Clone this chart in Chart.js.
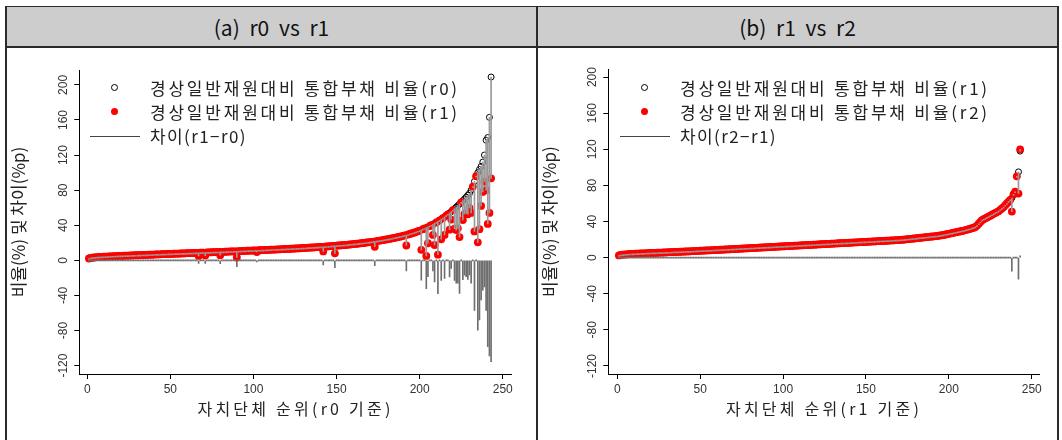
<!DOCTYPE html>
<html><head><meta charset="utf-8">
<script src="https://cdn.jsdelivr.net/npm/chart.js@4.4.1/dist/chart.umd.min.js"></script>
<style>
body{margin:0;background:#fff;width:1062px;height:440px;overflow:hidden;position:relative;font-family:"Noto Sans CJK KR","Noto Sans",sans-serif;color:#222}
.hdr{position:absolute;top:7px;height:39px;background:#cdcdcd;border-bottom:2px solid #2a2a2a;text-align:center;font-size:21px;line-height:40px;color:#111;word-spacing:5px;font-weight:400}
.vline{position:absolute;top:6px;bottom:0;width:2px;background:#2a2a2a}
.hline{position:absolute;top:6px;height:2px;background:#2a2a2a}
.lg{position:absolute;font-size:17px;line-height:20px;white-space:nowrap;color:#222}
.oc{position:absolute;width:5px;height:5px;border:1px solid #000;border-radius:50%;background:transparent}
.rd{position:absolute;width:7px;height:7px;border-radius:50%;background:#ff0000}
.ln{position:absolute;height:1px;background:#444}
canvas{position:absolute}
</style></head>
<body>
<div class="hline" style="left:5px;width:1054px"></div>
<div class="hdr" style="left:7px;width:529px">(a) r0 vs r1</div>
<div class="hdr" style="left:538px;width:519px">(b) r1 vs r2</div>
<div class="vline" style="left:5px"></div>
<div class="vline" style="left:536px"></div>
<div class="vline" style="left:1057px"></div>

<canvas id="ca" width="529" height="392" style="left:7px;top:48px"></canvas>
<canvas id="cb" width="519" height="392" style="left:538px;top:48px"></canvas>

<div class="oc" style="left:111px;top:84px"></div>
<div class="lg" data-w="310" style="left:150px;top:78px">경상일반재원대비 통합부채 비율(r0)</div>
<div class="rd" style="left:111px;top:108px"></div>
<div class="lg" data-w="310" style="left:150px;top:102px">경상일반재원대비 통합부채 비율(r1)</div>
<div class="ln" style="left:90px;width:50px;top:136px"></div>
<div class="lg" data-w="97" style="left:150px;top:126px">차이(r1−r0)</div>

<div class="oc" style="left:641px;top:84px"></div>
<div class="lg" data-w="310" style="left:680px;top:78px">경상일반재원대비 통합부채 비율(r1)</div>
<div class="rd" style="left:641px;top:108px"></div>
<div class="lg" data-w="310" style="left:680px;top:102px">경상일반재원대비 통합부채 비율(r2)</div>
<div class="ln" style="left:620px;width:50px;top:136px"></div>
<div class="lg" data-w="97" style="left:680px;top:126px">차이(r2−r1)</div>

<script>
const xTicks = [0, 50, 100, 150, 200, 250];
const yTicks = [-120, -80, -40, 0, 40, 80, 120, 160, 200];
const ranks = Array.from({length: 243}, (_, i) => i + 1);

// Panel (a): sorted by r0
const a_r0 = [
 2.1,2.7,3.0,3.2,3.4,3.6,3.7,3.9,4.0,4.1,
 4.2,4.3,4.4,4.5,4.6,4.7,4.8,4.9,5.0,5.0,
 5.1,5.2,5.3,5.4,5.4,5.5,5.6,5.7,5.8,5.8,
 5.9,6.0,6.1,6.1,6.2,6.3,6.4,6.4,6.5,6.6,
 6.7,6.7,6.8,6.9,7.0,7.0,7.1,7.2,7.3,7.3,
 7.4,7.5,7.6,7.6,7.7,7.8,7.9,7.9,8.0,8.1,
 8.2,8.2,8.3,8.4,8.5,8.5,8.6,8.7,8.8,8.8,
 8.9,9.0,9.1,9.1,9.2,9.3,9.4,9.4,9.5,9.6,
 9.7,9.7,9.8,9.9,10.0,10.1,10.1,10.2,10.3,10.4,
 10.5,10.5,10.6,10.7,10.8,10.9,11.0,11.0,11.1,11.2,
 11.3,11.4,11.5,11.5,11.6,11.7,11.8,11.9,12.0,12.1,
 12.2,12.3,12.3,12.4,12.5,12.6,12.7,12.8,12.9,13.0,
 13.1,13.2,13.3,13.4,13.5,13.6,13.7,13.8,13.9,14.0,
 14.1,14.2,14.4,14.5,14.6,14.7,14.8,15.0,15.1,15.2,
 15.4,15.5,15.6,15.8,15.9,16.1,16.2,16.4,16.5,16.7,
 16.9,17.0,17.2,17.4,17.5,17.7,17.9,18.1,18.3,18.5,
 18.7,18.9,19.1,19.3,19.6,19.8,20.0,20.3,20.5,20.8,
 21.0,21.3,21.6,21.9,22.2,22.5,22.8,23.1,23.5,23.8,
 24.2,24.5,24.9,25.3,25.7,26.1,26.5,27.0,27.4,27.9,
 28.4,28.9,29.4,30.0,30.6,31.2,31.8,32.5,33.2,33.9,
 34.7,35.5,36.3,37.2,38.1,39.0,40.0,41.0,42.1,43.2,
 44.4,45.6,46.9,48.2,49.6,51.0,52.5,54.0,55.6,57.2,
 58.9,60.6,62.4,64.2,66.1,68.0,70.0,72.0,74.2,76.4,
 80.0,84.0,90.0,96.0,100.0,103.5,107.0,112.0,120.0,137.0,
 140.0,163.0,209.0
];
const a_r1 = [
 2.1,2.7,3.0,3.2,3.4,3.6,3.7,3.9,4.0,4.1,
 4.2,4.3,4.4,4.5,4.6,4.7,4.8,4.9,5.0,5.0,
 5.1,5.2,5.3,5.4,5.4,5.5,5.6,5.7,5.8,5.8,
 5.9,6.0,6.1,6.1,6.2,6.3,6.4,6.4,6.5,6.6,
 6.7,6.7,6.8,6.9,7.0,7.0,7.1,7.2,7.3,7.3,
 7.4,7.5,7.6,7.6,7.7,7.8,7.9,7.9,8.0,8.1,
 8.2,8.2,8.3,8.4,8.5,8.5,5.0,8.7,8.8,8.8,
 5.4,9.0,9.1,9.1,9.2,9.3,9.4,9.4,9.5,5.8,
 9.7,9.7,9.8,9.9,10.0,10.1,10.1,10.2,10.3,3.2,
 10.5,10.5,10.6,10.7,10.8,10.9,11.0,11.0,11.1,11.2,
 11.3,9.5,11.5,11.5,11.6,11.7,11.8,11.9,12.0,12.1,
 12.2,12.3,12.3,12.4,12.5,12.6,12.7,12.8,12.9,13.0,
 13.1,13.2,13.3,13.4,13.5,13.6,13.7,13.8,13.9,14.0,
 14.1,14.2,14.4,14.5,14.6,14.7,14.8,15.0,15.1,15.2,
 15.4,10.2,15.6,15.8,15.9,16.1,16.2,16.4,8.0,16.7,
 16.9,17.0,17.2,17.4,17.5,17.7,17.9,18.1,18.3,18.5,
 18.7,18.9,19.1,19.3,19.6,19.8,20.0,20.3,20.5,20.8,
 21.0,21.3,15.5,21.9,22.2,22.5,22.8,23.1,23.5,23.8,
 24.2,24.5,24.9,25.3,25.7,26.1,26.5,27.0,27.4,27.9,
 28.4,16.9,29.4,30.0,30.6,31.2,31.8,32.5,33.2,33.9,
 12.0,35.5,36.3,5.0,19.5,39.0,40.0,29.0,17.5,43.2,
 6.5,45.6,24.0,48.2,29.0,51.0,52.5,35.0,46.5,57.2,
 36.0,34.5,36.5,26.5,66.1,46.0,53.0,53.5,52.5,59.7,
 54.0,84.0,33.0,96.0,20.5,35.5,62.0,78.0,89.6,80.0,
 41.5,54.0,93.5
];

// Panel (b): sorted by r1
const b_r1 = [
 2.4,2.9,3.2,3.4,3.6,3.7,3.9,4.0,4.1,4.2,
 4.3,4.4,4.5,4.6,4.7,4.7,4.8,4.9,5.0,5.1,
 5.2,5.2,5.3,5.4,5.5,5.6,5.6,5.7,5.8,5.9,
 6.0,6.0,6.1,6.2,6.3,6.4,6.4,6.5,6.6,6.7,
 6.8,6.9,6.9,7.0,7.1,7.2,7.3,7.4,7.5,7.6,
 7.7,7.8,7.9,8.0,8.1,8.1,8.2,8.3,8.4,8.5,
 8.6,8.7,8.8,8.9,9.0,9.1,9.2,9.3,9.4,9.5,
 9.6,9.7,9.8,9.9,10.0,10.1,10.2,10.3,10.4,10.5,
 10.6,10.7,10.8,10.9,11.0,11.1,11.2,11.3,11.4,11.5,
 11.6,11.7,11.8,11.9,12.0,12.1,12.2,12.3,12.4,12.5,
 12.6,12.7,12.8,12.9,13.0,13.1,13.2,13.3,13.4,13.5,
 13.6,13.7,13.8,13.9,14.0,14.1,14.2,14.3,14.4,14.5,
 14.6,14.7,14.8,14.9,15.0,15.1,15.2,15.3,15.4,15.5,
 15.6,15.7,15.8,15.9,16.0,16.1,16.2,16.3,16.4,16.5,
 16.6,16.7,16.8,16.9,17.0,17.1,17.2,17.3,17.4,17.5,
 17.6,17.7,17.8,17.9,18.0,18.1,18.2,18.3,18.4,18.5,
 18.6,18.7,18.8,18.9,19.0,19.1,19.2,19.3,19.4,19.5,
 19.7,19.8,20.0,20.2,20.4,20.6,20.8,21.0,21.2,21.4,
 21.6,21.8,22.0,22.2,22.4,22.6,22.8,23.0,23.2,23.4,
 23.6,23.8,24.0,24.3,24.6,24.9,25.2,25.6,26.0,26.4,
 26.8,27.2,27.6,28.0,28.4,28.8,29.2,29.6,30.0,30.5,
 31.0,31.5,32.0,32.6,33.2,34.0,35.5,37.5,39.5,41.5,
 42.5,43.5,44.5,45.5,46.5,47.5,48.5,49.5,50.5,51.5,
 53.0,54.5,56.0,58.0,60.0,62.0,64.0,66.0,70.0,73.0,
 90.0,95.0,118.0
];
const b_r2 = [
 2.4,2.9,3.2,3.4,3.6,3.7,3.9,4.0,4.1,4.2,
 4.3,4.4,4.5,4.6,4.7,4.7,4.8,4.9,5.0,5.1,
 5.2,5.2,5.3,5.4,5.5,5.6,5.6,5.7,5.8,5.9,
 6.0,6.0,6.1,6.2,6.3,6.4,6.4,6.5,6.6,6.7,
 6.8,6.9,6.9,7.0,7.1,7.2,7.3,7.4,7.5,7.6,
 7.7,7.8,7.9,8.0,8.1,8.1,8.2,8.3,8.4,8.5,
 8.6,8.7,8.8,8.9,9.0,9.1,9.2,9.3,9.4,9.5,
 9.6,9.7,9.8,9.9,10.0,10.1,10.2,10.3,10.4,10.5,
 10.6,10.7,10.8,10.9,11.0,11.1,11.2,11.3,11.4,11.5,
 11.6,11.7,11.8,11.9,12.0,12.1,12.2,12.3,12.4,12.5,
 12.6,12.7,12.8,12.9,13.0,13.1,13.2,13.3,13.4,13.5,
 13.6,13.7,13.8,13.9,14.0,14.1,14.2,14.3,14.4,14.5,
 14.6,14.7,14.8,14.9,15.0,15.1,15.2,15.3,15.4,15.5,
 15.6,15.7,15.8,15.9,16.0,16.1,16.2,16.3,16.4,16.5,
 16.6,16.7,16.8,16.9,17.0,17.1,17.2,17.3,17.4,17.5,
 17.6,17.7,17.8,17.9,18.0,18.1,18.2,18.3,18.4,18.5,
 18.6,18.7,18.8,18.9,19.0,19.1,19.2,19.3,19.4,19.5,
 19.7,19.8,20.0,20.2,20.4,20.6,20.8,21.0,21.2,21.4,
 21.6,21.8,22.0,22.2,22.4,22.6,22.8,23.0,23.2,23.4,
 23.6,23.8,24.0,24.3,24.6,24.9,25.2,25.6,26.0,26.4,
 26.8,27.2,27.6,28.0,28.4,28.8,29.2,29.6,30.0,30.5,
 31.0,31.5,32.0,32.6,33.2,34.0,35.5,37.5,39.5,41.5,
 42.5,43.5,44.5,45.5,46.5,47.5,48.5,49.5,50.5,51.5,
 53.0,54.5,56.0,58.0,60.0,62.0,64.0,51.0,70.0,73.0,
 90.0,71.0,120.0
];

// stretch legend texts to the widths they take in the reference
document.querySelectorAll('.lg').forEach(el => {
  const target = +el.dataset.w;
  el.style.letterSpacing = '0px';
  const w = el.getBoundingClientRect().width;
  const n = [...el.textContent].length;
  el.style.letterSpacing = Math.max(0, (target - w) / n).toFixed(2) + 'px';
});

const tickFont = {family: '"Liberation Sans", Arial, sans-serif', size: 12};
const xTitleFont = {family: '"Noto Sans CJK KR", sans-serif', size: 16};
const yTitleFont = {family: '"Noto Sans CJK KR", sans-serif', size: 17};
const X_TITLE_WIDTH = 196;

// the x-axis title (drawn with the x grid, z=-1) gets letter spacing;
// everything drawn after the datasets (y grid + y title, tick labels) uses none
const spacingPlugin = {
  id: 'spacing',
  beforeDraw: c => {
    const ctx = c.ctx;
    const t = c.options.scales.x.title.text;
    ctx.save();
    ctx.font = '16px "Noto Sans CJK KR"';
    ctx.letterSpacing = '0px';
    const w = ctx.measureText(t).width;
    ctx.restore();
    ctx.letterSpacing = Math.max(0, (X_TITLE_WIDTH - w) / [...t].length).toFixed(2) + 'px';
  },
  beforeDatasetsDraw: c => { c.ctx.letterSpacing = '0px'; }
};

function makeChart(id, base, other, xTitle, geo) {
  const pBase = ranks.map((x, i) => ({x, y: base[i]}));
  const pOther = ranks.map((x, i) => ({x, y: other[i]}));
  const seg = ranks.map((x, i) => ({x, y: [base[i], other[i]]}));
  const dif = ranks.map((x, i) => ({x, y: [0, +(other[i] - base[i]).toFixed(2)]}));
  new Chart(document.getElementById(id), {
    type: 'scatter',
    plugins: [spacingPlugin],
    data: {datasets: [
      {type: 'bar', data: dif, backgroundColor: '#6e6e6e', barThickness: 1, minBarLength: 1, grouped: false, order: 0},
      {type: 'bar', data: seg, backgroundColor: '#9a9a9a', barThickness: 1, minBarLength: 1, grouped: false, order: 1},
      {type: 'scatter', data: pOther, pointRadius: 3.9, pointBackgroundColor: '#ff0000', pointBorderWidth: 0, order: 2},
      {type: 'scatter', data: pBase, pointRadius: 3, pointBackgroundColor: 'rgba(0,0,0,0)', pointBorderColor: '#000', pointBorderWidth: 1, order: 3}
    ]},
    options: {
      responsive: false, animation: false, events: [],
      layout: {padding: {left: 0, top: geo.top, right: geo.right, bottom: 0}},
      plugins: {legend: {display: false}, tooltip: {enabled: false}},
      scales: {
        x: {type: 'linear', offset: false, min: geo.xmin, max: geo.xmax,
            afterBuildTicks: s => { s.ticks = xTicks.map(v => ({value: v})); },
            afterFit: s => { s.height = geo.xh; },
            grid: {display: true, drawOnChartArea: false, drawTicks: true, tickLength: 5, color: '#000', offset: false, z: -1},
            border: {display: true, color: '#000', width: 1, z: 0},
            ticks: {font: tickFont, color: '#333', padding: 3, maxRotation: 0, autoSkip: false, z: 1},
            title: {display: true, text: xTitle, font: xTitleFont, color: '#222', padding: {top: 0, bottom: 21}}},
        y: {type: 'linear', min: geo.ymin, max: geo.ymax,
            afterBuildTicks: s => { s.ticks = yTicks.map(v => ({value: v})); },
            afterFit: s => { s.width = geo.yw; },
            grid: {display: true, drawOnChartArea: false, drawTicks: true, tickLength: 5, color: '#000', z: 1},
            border: {display: true, color: '#000', width: 1, z: 1},
            ticks: {font: tickFont, color: '#333', minRotation: 90, maxRotation: 90, crossAlign: 'center', padding: -1, autoSkip: false, z: 1},
            title: {display: true, text: '비율(%) 및 차이(%p)', font: yTitleFont, color: '#222', padding: {top: 1, bottom: 0}}}
      }
    }
  });
}

makeChart('ca', a_r0, a_r1, '자치단체 순위(r0 기준)',
  {top: 22, right: 24.3, xh: 66, yw: 72.3, xmin: -4.8, xmax: 255.4, ymin: -129.6, ymax: 217});
makeChart('cb', b_r1, b_r2, '자치단체 순위(r1 기준)',
  {top: 21.3, right: 17.3, xh: 66, yw: 70.3, xmin: -5.4, xmax: 254.8, ymin: -128.9, ymax: 208.6});
</script>
</body></html>
